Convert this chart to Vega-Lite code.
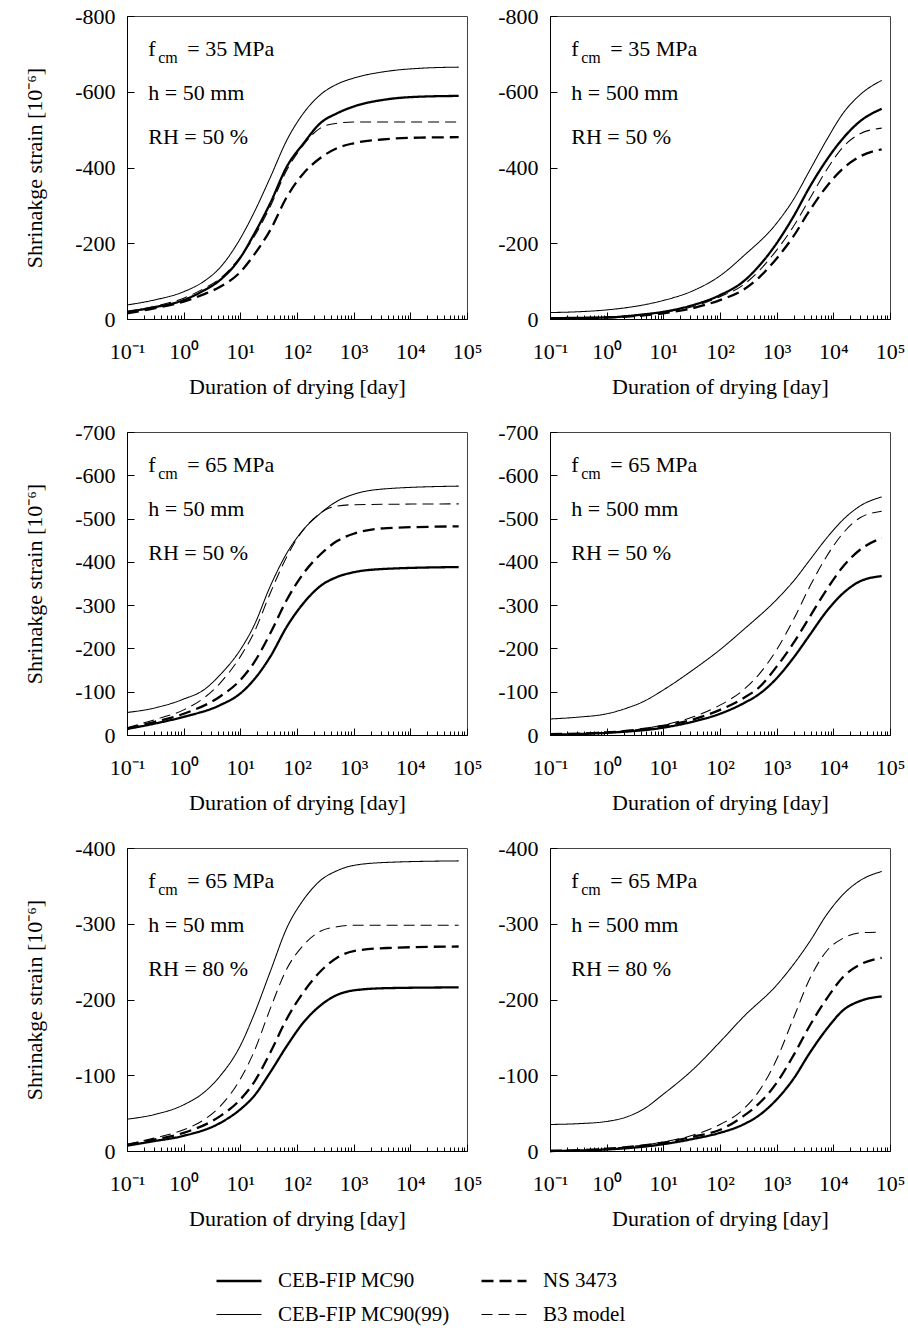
{
"$schema": "https://vega.github.io/schema/vega-lite/v6.json",
"padding": {"left": 23, "top": 4, "right": 10, "bottom": 10},
"columns": 2,
"bounds": "flush",
"spacing": {"row": 113, "column": 83},
"datasets": {
"c": [
{"p":1,"m":"CEB-FIP MC90","t":0.1,"s":-19},{"p":1,"m":"CEB-FIP MC90","t":0.3,"s":-31},{"p":1,"m":"CEB-FIP MC90","t":1,"s":-50},{"p":1,"m":"CEB-FIP MC90","t":2.25,"s":-75},{"p":1,"m":"CEB-FIP MC90","t":4.4,"s":-103},{"p":1,"m":"CEB-FIP MC90","t":10,"s":-162},{"p":1,"m":"CEB-FIP MC90","t":17.2,"s":-222},{"p":1,"m":"CEB-FIP MC90","t":33.8,"s":-306},{"p":1,"m":"CEB-FIP MC90","t":66.6,"s":-403},{"p":1,"m":"CEB-FIP MC90","t":131,"s":-464},{"p":1,"m":"CEB-FIP MC90","t":258,"s":-517},{"p":1,"m":"CEB-FIP MC90","t":508,"s":-543},{"p":1,"m":"CEB-FIP MC90","t":1000,"s":-561},{"p":1,"m":"CEB-FIP MC90","t":3875,"s":-580},{"p":1,"m":"CEB-FIP MC90","t":15000,"s":-587},{"p":1,"m":"CEB-FIP MC90","t":71300,"s":-589},
{"p":1,"m":"CEB-FIP MC90(99)","t":0.1,"s":-37},{"p":1,"m":"CEB-FIP MC90(99)","t":0.3,"s":-50},{"p":1,"m":"CEB-FIP MC90(99)","t":1,"s":-72},{"p":1,"m":"CEB-FIP MC90(99)","t":2.25,"s":-99},{"p":1,"m":"CEB-FIP MC90(99)","t":4.4,"s":-136},{"p":1,"m":"CEB-FIP MC90(99)","t":8.75,"s":-198},{"p":1,"m":"CEB-FIP MC90(99)","t":17.2,"s":-279},{"p":1,"m":"CEB-FIP MC90(99)","t":33.8,"s":-374},{"p":1,"m":"CEB-FIP MC90(99)","t":66.6,"s":-473},{"p":1,"m":"CEB-FIP MC90(99)","t":131,"s":-544},{"p":1,"m":"CEB-FIP MC90(99)","t":258,"s":-592},{"p":1,"m":"CEB-FIP MC90(99)","t":508,"s":-620},{"p":1,"m":"CEB-FIP MC90(99)","t":1000,"s":-636},{"p":1,"m":"CEB-FIP MC90(99)","t":3875,"s":-654},{"p":1,"m":"CEB-FIP MC90(99)","t":15000,"s":-662},{"p":1,"m":"CEB-FIP MC90(99)","t":71300,"s":-665},
{"p":1,"m":"NS 3473","t":0.1,"s":-15},{"p":1,"m":"NS 3473","t":0.3,"s":-28},{"p":1,"m":"NS 3473","t":1,"s":-46},{"p":1,"m":"NS 3473","t":2.25,"s":-65},{"p":1,"m":"NS 3473","t":4.4,"s":-85},{"p":1,"m":"NS 3473","t":10,"s":-124},{"p":1,"m":"NS 3473","t":17.2,"s":-168},{"p":1,"m":"NS 3473","t":33.8,"s":-235},{"p":1,"m":"NS 3473","t":66.6,"s":-323},{"p":1,"m":"NS 3473","t":131,"s":-385},{"p":1,"m":"NS 3473","t":258,"s":-425},{"p":1,"m":"NS 3473","t":508,"s":-451},{"p":1,"m":"NS 3473","t":1000,"s":-464},{"p":1,"m":"NS 3473","t":3875,"s":-475},{"p":1,"m":"NS 3473","t":15000,"s":-479},{"p":1,"m":"NS 3473","t":71300,"s":-480},
{"p":1,"m":"B3 model","t":0.1,"s":-19},{"p":1,"m":"B3 model","t":0.3,"s":-33},{"p":1,"m":"B3 model","t":1,"s":-55},{"p":1,"m":"B3 model","t":2.25,"s":-80},{"p":1,"m":"B3 model","t":4.4,"s":-107},{"p":1,"m":"B3 model","t":10,"s":-164},{"p":1,"m":"B3 model","t":17.2,"s":-215},{"p":1,"m":"B3 model","t":33.8,"s":-297},{"p":1,"m":"B3 model","t":66.6,"s":-394},{"p":1,"m":"B3 model","t":131,"s":-460},{"p":1,"m":"B3 model","t":258,"s":-504},{"p":1,"m":"B3 model","t":508,"s":-517},{"p":1,"m":"B3 model","t":1000,"s":-520},{"p":1,"m":"B3 model","t":71300,"s":-520},

{"p":2,"m":"CEB-FIP MC90","t":0.1,"s":-2},{"p":2,"m":"CEB-FIP MC90","t":0.3,"s":-3},{"p":2,"m":"CEB-FIP MC90","t":1,"s":-4},{"p":2,"m":"CEB-FIP MC90","t":4.4,"s":-12},{"p":2,"m":"CEB-FIP MC90","t":10,"s":-19},{"p":2,"m":"CEB-FIP MC90","t":33.8,"s":-37},{"p":2,"m":"CEB-FIP MC90","t":100,"s":-63},{"p":2,"m":"CEB-FIP MC90","t":258,"s":-99},{"p":2,"m":"CEB-FIP MC90","t":508,"s":-143},{"p":2,"m":"CEB-FIP MC90","t":1000,"s":-200},{"p":2,"m":"CEB-FIP MC90","t":1970,"s":-270},{"p":2,"m":"CEB-FIP MC90","t":3875,"s":-350},{"p":2,"m":"CEB-FIP MC90","t":7630,"s":-420},{"p":2,"m":"CEB-FIP MC90","t":15000,"s":-478},{"p":2,"m":"CEB-FIP MC90","t":29570,"s":-522},{"p":2,"m":"CEB-FIP MC90","t":71300,"s":-555},
{"p":2,"m":"CEB-FIP MC90(99)","t":0.1,"s":-17},{"p":2,"m":"CEB-FIP MC90(99)","t":0.3,"s":-19},{"p":2,"m":"CEB-FIP MC90(99)","t":1,"s":-24},{"p":2,"m":"CEB-FIP MC90(99)","t":2.25,"s":-30},{"p":2,"m":"CEB-FIP MC90(99)","t":4.4,"s":-37},{"p":2,"m":"CEB-FIP MC90(99)","t":10,"s":-49},{"p":2,"m":"CEB-FIP MC90(99)","t":33.8,"s":-75},{"p":2,"m":"CEB-FIP MC90(99)","t":100,"s":-114},{"p":2,"m":"CEB-FIP MC90(99)","t":258,"s":-166},{"p":2,"m":"CEB-FIP MC90(99)","t":1000,"s":-253},{"p":2,"m":"CEB-FIP MC90(99)","t":1970,"s":-315},{"p":2,"m":"CEB-FIP MC90(99)","t":3875,"s":-394},{"p":2,"m":"CEB-FIP MC90(99)","t":7630,"s":-473},{"p":2,"m":"CEB-FIP MC90(99)","t":15000,"s":-544},{"p":2,"m":"CEB-FIP MC90(99)","t":29570,"s":-592},{"p":2,"m":"CEB-FIP MC90(99)","t":71300,"s":-630},
{"p":2,"m":"NS 3473","t":0.1,"s":-1},{"p":2,"m":"NS 3473","t":1,"s":-4},{"p":2,"m":"NS 3473","t":10,"s":-15},{"p":2,"m":"NS 3473","t":33.8,"s":-29},{"p":2,"m":"NS 3473","t":100,"s":-50},{"p":2,"m":"NS 3473","t":258,"s":-77},{"p":2,"m":"NS 3473","t":508,"s":-112},{"p":2,"m":"NS 3473","t":1000,"s":-160},{"p":2,"m":"NS 3473","t":1970,"s":-218},{"p":2,"m":"NS 3473","t":3875,"s":-288},{"p":2,"m":"NS 3473","t":7630,"s":-350},{"p":2,"m":"NS 3473","t":15000,"s":-398},{"p":2,"m":"NS 3473","t":29570,"s":-429},{"p":2,"m":"NS 3473","t":71300,"s":-448},
{"p":2,"m":"B3 model","t":0.1,"s":-1},{"p":2,"m":"B3 model","t":1,"s":-5},{"p":2,"m":"B3 model","t":10,"s":-18},{"p":2,"m":"B3 model","t":33.8,"s":-33},{"p":2,"m":"B3 model","t":100,"s":-59},{"p":2,"m":"B3 model","t":258,"s":-90},{"p":2,"m":"B3 model","t":508,"s":-130},{"p":2,"m":"B3 model","t":1000,"s":-182},{"p":2,"m":"B3 model","t":1970,"s":-244},{"p":2,"m":"B3 model","t":3875,"s":-319},{"p":2,"m":"B3 model","t":7630,"s":-394},{"p":2,"m":"B3 model","t":15000,"s":-455},{"p":2,"m":"B3 model","t":29570,"s":-489},{"p":2,"m":"B3 model","t":71300,"s":-504},

{"p":3,"m":"CEB-FIP MC90","t":0.1,"s":-14},{"p":3,"m":"CEB-FIP MC90","t":0.3,"s":-26},{"p":3,"m":"CEB-FIP MC90","t":1,"s":-42},{"p":3,"m":"CEB-FIP MC90","t":4.4,"s":-69},{"p":3,"m":"CEB-FIP MC90","t":10,"s":-96},{"p":3,"m":"CEB-FIP MC90","t":17.2,"s":-127},{"p":3,"m":"CEB-FIP MC90","t":33.8,"s":-181},{"p":3,"m":"CEB-FIP MC90","t":66.6,"s":-251},{"p":3,"m":"CEB-FIP MC90","t":131,"s":-305},{"p":3,"m":"CEB-FIP MC90","t":258,"s":-344},{"p":3,"m":"CEB-FIP MC90","t":508,"s":-365},{"p":3,"m":"CEB-FIP MC90","t":1000,"s":-376},{"p":3,"m":"CEB-FIP MC90","t":3875,"s":-384},{"p":3,"m":"CEB-FIP MC90","t":71300,"s":-388},
{"p":3,"m":"CEB-FIP MC90(99)","t":0.1,"s":-52},{"p":3,"m":"CEB-FIP MC90(99)","t":0.3,"s":-62},{"p":3,"m":"CEB-FIP MC90(99)","t":1,"s":-83},{"p":3,"m":"CEB-FIP MC90(99)","t":2.25,"s":-104},{"p":3,"m":"CEB-FIP MC90(99)","t":4.4,"s":-139},{"p":3,"m":"CEB-FIP MC90(99)","t":10,"s":-197},{"p":3,"m":"CEB-FIP MC90(99)","t":17.2,"s":-251},{"p":3,"m":"CEB-FIP MC90(99)","t":33.8,"s":-344},{"p":3,"m":"CEB-FIP MC90(99)","t":66.6,"s":-421},{"p":3,"m":"CEB-FIP MC90(99)","t":131,"s":-475},{"p":3,"m":"CEB-FIP MC90(99)","t":258,"s":-512},{"p":3,"m":"CEB-FIP MC90(99)","t":508,"s":-540},{"p":3,"m":"CEB-FIP MC90(99)","t":1000,"s":-556},{"p":3,"m":"CEB-FIP MC90(99)","t":3875,"s":-569},{"p":3,"m":"CEB-FIP MC90(99)","t":71300,"s":-575},
{"p":3,"m":"NS 3473","t":0.1,"s":-15},{"p":3,"m":"NS 3473","t":0.3,"s":-30},{"p":3,"m":"NS 3473","t":1,"s":-49},{"p":3,"m":"NS 3473","t":4.4,"s":-89},{"p":3,"m":"NS 3473","t":10,"s":-127},{"p":3,"m":"NS 3473","t":17.2,"s":-166},{"p":3,"m":"NS 3473","t":33.8,"s":-235},{"p":3,"m":"NS 3473","t":66.6,"s":-313},{"p":3,"m":"NS 3473","t":131,"s":-374},{"p":3,"m":"NS 3473","t":258,"s":-417},{"p":3,"m":"NS 3473","t":508,"s":-448},{"p":3,"m":"NS 3473","t":1000,"s":-465},{"p":3,"m":"NS 3473","t":3875,"s":-478},{"p":3,"m":"NS 3473","t":71300,"s":-482},
{"p":3,"m":"B3 model","t":0.1,"s":-17},{"p":3,"m":"B3 model","t":0.3,"s":-35},{"p":3,"m":"B3 model","t":1,"s":-58},{"p":3,"m":"B3 model","t":2.25,"s":-85},{"p":3,"m":"B3 model","t":4.4,"s":-120},{"p":3,"m":"B3 model","t":10,"s":-181},{"p":3,"m":"B3 model","t":17.2,"s":-235},{"p":3,"m":"B3 model","t":33.8,"s":-328},{"p":3,"m":"B3 model","t":66.6,"s":-413},{"p":3,"m":"B3 model","t":131,"s":-475},{"p":3,"m":"B3 model","t":258,"s":-512},{"p":3,"m":"B3 model","t":338,"s":-522},{"p":3,"m":"B3 model","t":508,"s":-529},{"p":3,"m":"B3 model","t":1000,"s":-532},{"p":3,"m":"B3 model","t":71300,"s":-534},

{"p":4,"m":"CEB-FIP MC90","t":0.1,"s":-1},{"p":4,"m":"CEB-FIP MC90","t":1,"s":-5},{"p":4,"m":"CEB-FIP MC90","t":10,"s":-17},{"p":4,"m":"CEB-FIP MC90","t":33.8,"s":-31},{"p":4,"m":"CEB-FIP MC90","t":100,"s":-49},{"p":4,"m":"CEB-FIP MC90","t":258,"s":-73},{"p":4,"m":"CEB-FIP MC90","t":508,"s":-96},{"p":4,"m":"CEB-FIP MC90","t":1000,"s":-131},{"p":4,"m":"CEB-FIP MC90","t":1970,"s":-178},{"p":4,"m":"CEB-FIP MC90","t":3875,"s":-232},{"p":4,"m":"CEB-FIP MC90","t":7630,"s":-286},{"p":4,"m":"CEB-FIP MC90","t":15000,"s":-328},{"p":4,"m":"CEB-FIP MC90","t":29570,"s":-355},{"p":4,"m":"CEB-FIP MC90","t":71300,"s":-367},
{"p":4,"m":"CEB-FIP MC90(99)","t":0.1,"s":-37},{"p":4,"m":"CEB-FIP MC90(99)","t":0.3,"s":-41},{"p":4,"m":"CEB-FIP MC90(99)","t":1,"s":-49},{"p":4,"m":"CEB-FIP MC90(99)","t":2.25,"s":-62},{"p":4,"m":"CEB-FIP MC90(99)","t":4.4,"s":-77},{"p":4,"m":"CEB-FIP MC90(99)","t":10,"s":-104},{"p":4,"m":"CEB-FIP MC90(99)","t":33.8,"s":-151},{"p":4,"m":"CEB-FIP MC90(99)","t":100,"s":-197},{"p":4,"m":"CEB-FIP MC90(99)","t":258,"s":-243},{"p":4,"m":"CEB-FIP MC90(99)","t":1000,"s":-313},{"p":4,"m":"CEB-FIP MC90(99)","t":1970,"s":-355},{"p":4,"m":"CEB-FIP MC90(99)","t":3875,"s":-405},{"p":4,"m":"CEB-FIP MC90(99)","t":7630,"s":-455},{"p":4,"m":"CEB-FIP MC90(99)","t":15000,"s":-498},{"p":4,"m":"CEB-FIP MC90(99)","t":29570,"s":-529},{"p":4,"m":"CEB-FIP MC90(99)","t":71300,"s":-550},
{"p":4,"m":"NS 3473","t":0.1,"s":-2},{"p":4,"m":"NS 3473","t":1,"s":-6},{"p":4,"m":"NS 3473","t":10,"s":-21},{"p":4,"m":"NS 3473","t":33.8,"s":-36},{"p":4,"m":"NS 3473","t":100,"s":-58},{"p":4,"m":"NS 3473","t":258,"s":-85},{"p":4,"m":"NS 3473","t":508,"s":-112},{"p":4,"m":"NS 3473","t":1000,"s":-158},{"p":4,"m":"NS 3473","t":1970,"s":-212},{"p":4,"m":"NS 3473","t":3875,"s":-274},{"p":4,"m":"NS 3473","t":7630,"s":-336},{"p":4,"m":"NS 3473","t":15000,"s":-390},{"p":4,"m":"NS 3473","t":29570,"s":-428},{"p":4,"m":"NS 3473","t":71300,"s":-455},
{"p":4,"m":"B3 model","t":0.1,"s":-2},{"p":4,"m":"B3 model","t":1,"s":-6},{"p":4,"m":"B3 model","t":10,"s":-23},{"p":4,"m":"B3 model","t":33.8,"s":-42},{"p":4,"m":"B3 model","t":100,"s":-69},{"p":4,"m":"B3 model","t":258,"s":-104},{"p":4,"m":"B3 model","t":508,"s":-143},{"p":4,"m":"B3 model","t":1000,"s":-197},{"p":4,"m":"B3 model","t":1970,"s":-266},{"p":4,"m":"B3 model","t":3875,"s":-344},{"p":4,"m":"B3 model","t":7630,"s":-413},{"p":4,"m":"B3 model","t":15000,"s":-467},{"p":4,"m":"B3 model","t":29570,"s":-502},{"p":4,"m":"B3 model","t":71300,"s":-517},

{"p":5,"m":"CEB-FIP MC90","t":0.1,"s":-7},{"p":5,"m":"CEB-FIP MC90","t":0.3,"s":-13},{"p":5,"m":"CEB-FIP MC90","t":1,"s":-20},{"p":5,"m":"CEB-FIP MC90","t":4.4,"s":-37},{"p":5,"m":"CEB-FIP MC90","t":10,"s":-55},{"p":5,"m":"CEB-FIP MC90","t":17.2,"s":-72},{"p":5,"m":"CEB-FIP MC90","t":33.8,"s":-104},{"p":5,"m":"CEB-FIP MC90","t":66.6,"s":-139},{"p":5,"m":"CEB-FIP MC90","t":131,"s":-170},{"p":5,"m":"CEB-FIP MC90","t":258,"s":-192},{"p":5,"m":"CEB-FIP MC90","t":508,"s":-206},{"p":5,"m":"CEB-FIP MC90","t":1000,"s":-212},{"p":5,"m":"CEB-FIP MC90","t":3875,"s":-215},{"p":5,"m":"CEB-FIP MC90","t":71300,"s":-216},
{"p":5,"m":"CEB-FIP MC90(99)","t":0.1,"s":-42},{"p":5,"m":"CEB-FIP MC90(99)","t":0.3,"s":-48},{"p":5,"m":"CEB-FIP MC90(99)","t":1,"s":-61},{"p":5,"m":"CEB-FIP MC90(99)","t":2.25,"s":-77},{"p":5,"m":"CEB-FIP MC90(99)","t":4.4,"s":-99},{"p":5,"m":"CEB-FIP MC90(99)","t":10,"s":-139},{"p":5,"m":"CEB-FIP MC90(99)","t":17.2,"s":-179},{"p":5,"m":"CEB-FIP MC90(99)","t":33.8,"s":-237},{"p":5,"m":"CEB-FIP MC90(99)","t":66.6,"s":-295},{"p":5,"m":"CEB-FIP MC90(99)","t":131,"s":-332},{"p":5,"m":"CEB-FIP MC90(99)","t":258,"s":-357},{"p":5,"m":"CEB-FIP MC90(99)","t":508,"s":-370},{"p":5,"m":"CEB-FIP MC90(99)","t":1000,"s":-377},{"p":5,"m":"CEB-FIP MC90(99)","t":3875,"s":-381},{"p":5,"m":"CEB-FIP MC90(99)","t":71300,"s":-383},
{"p":5,"m":"NS 3473","t":0.1,"s":-8},{"p":5,"m":"NS 3473","t":0.3,"s":-15},{"p":5,"m":"NS 3473","t":1,"s":-24},{"p":5,"m":"NS 3473","t":4.4,"s":-46},{"p":5,"m":"NS 3473","t":10,"s":-68},{"p":5,"m":"NS 3473","t":17.2,"s":-90},{"p":5,"m":"NS 3473","t":33.8,"s":-130},{"p":5,"m":"NS 3473","t":66.6,"s":-175},{"p":5,"m":"NS 3473","t":131,"s":-210},{"p":5,"m":"NS 3473","t":258,"s":-237},{"p":5,"m":"NS 3473","t":508,"s":-255},{"p":5,"m":"NS 3473","t":1000,"s":-264},{"p":5,"m":"NS 3473","t":3875,"s":-268},{"p":5,"m":"NS 3473","t":71300,"s":-270},
{"p":5,"m":"B3 model","t":0.1,"s":-9},{"p":5,"m":"B3 model","t":0.3,"s":-17},{"p":5,"m":"B3 model","t":1,"s":-28},{"p":5,"m":"B3 model","t":2.25,"s":-41},{"p":5,"m":"B3 model","t":4.4,"s":-59},{"p":5,"m":"B3 model","t":10,"s":-95},{"p":5,"m":"B3 model","t":17.2,"s":-130},{"p":5,"m":"B3 model","t":33.8,"s":-188},{"p":5,"m":"B3 model","t":66.6,"s":-241},{"p":5,"m":"B3 model","t":131,"s":-272},{"p":5,"m":"B3 model","t":258,"s":-290},{"p":5,"m":"B3 model","t":508,"s":-296},{"p":5,"m":"B3 model","t":1000,"s":-298},{"p":5,"m":"B3 model","t":71300,"s":-298},

{"p":6,"m":"CEB-FIP MC90","t":0.1,"s":0},{"p":6,"m":"CEB-FIP MC90","t":1,"s":-2},{"p":6,"m":"CEB-FIP MC90","t":10,"s":-9},{"p":6,"m":"CEB-FIP MC90","t":33.8,"s":-16},{"p":6,"m":"CEB-FIP MC90","t":100,"s":-24},{"p":6,"m":"CEB-FIP MC90","t":258,"s":-35},{"p":6,"m":"CEB-FIP MC90","t":508,"s":-48},{"p":6,"m":"CEB-FIP MC90","t":1000,"s":-68},{"p":6,"m":"CEB-FIP MC90","t":1970,"s":-95},{"p":6,"m":"CEB-FIP MC90","t":3875,"s":-130},{"p":6,"m":"CEB-FIP MC90","t":7630,"s":-161},{"p":6,"m":"CEB-FIP MC90","t":15000,"s":-186},{"p":6,"m":"CEB-FIP MC90","t":29570,"s":-198},{"p":6,"m":"CEB-FIP MC90","t":71300,"s":-204},
{"p":6,"m":"CEB-FIP MC90(99)","t":0.1,"s":-35},{"p":6,"m":"CEB-FIP MC90(99)","t":0.3,"s":-36},{"p":6,"m":"CEB-FIP MC90(99)","t":1,"s":-39},{"p":6,"m":"CEB-FIP MC90(99)","t":2.25,"s":-45},{"p":6,"m":"CEB-FIP MC90(99)","t":4.4,"s":-55},{"p":6,"m":"CEB-FIP MC90(99)","t":10,"s":-75},{"p":6,"m":"CEB-FIP MC90(99)","t":33.8,"s":-108},{"p":6,"m":"CEB-FIP MC90(99)","t":100,"s":-144},{"p":6,"m":"CEB-FIP MC90(99)","t":258,"s":-177},{"p":6,"m":"CEB-FIP MC90(99)","t":1000,"s":-219},{"p":6,"m":"CEB-FIP MC90(99)","t":1970,"s":-246},{"p":6,"m":"CEB-FIP MC90(99)","t":3875,"s":-277},{"p":6,"m":"CEB-FIP MC90(99)","t":7630,"s":-312},{"p":6,"m":"CEB-FIP MC90(99)","t":15000,"s":-339},{"p":6,"m":"CEB-FIP MC90(99)","t":29570,"s":-357},{"p":6,"m":"CEB-FIP MC90(99)","t":71300,"s":-369},
{"p":6,"m":"NS 3473","t":0.1,"s":0},{"p":6,"m":"NS 3473","t":1,"s":-3},{"p":6,"m":"NS 3473","t":10,"s":-11},{"p":6,"m":"NS 3473","t":33.8,"s":-19},{"p":6,"m":"NS 3473","t":100,"s":-28},{"p":6,"m":"NS 3473","t":258,"s":-46},{"p":6,"m":"NS 3473","t":508,"s":-64},{"p":6,"m":"NS 3473","t":1000,"s":-90},{"p":6,"m":"NS 3473","t":1970,"s":-126},{"p":6,"m":"NS 3473","t":3875,"s":-166},{"p":6,"m":"NS 3473","t":7630,"s":-201},{"p":6,"m":"NS 3473","t":15000,"s":-230},{"p":6,"m":"NS 3473","t":29570,"s":-246},{"p":6,"m":"NS 3473","t":71300,"s":-255},
{"p":6,"m":"B3 model","t":0.1,"s":0},{"p":6,"m":"B3 model","t":1,"s":-3},{"p":6,"m":"B3 model","t":10,"s":-12},{"p":6,"m":"B3 model","t":33.8,"s":-21},{"p":6,"m":"B3 model","t":100,"s":-35},{"p":6,"m":"B3 model","t":258,"s":-55},{"p":6,"m":"B3 model","t":508,"s":-81},{"p":6,"m":"B3 model","t":1000,"s":-121},{"p":6,"m":"B3 model","t":1970,"s":-175},{"p":6,"m":"B3 model","t":3875,"s":-228},{"p":6,"m":"B3 model","t":7630,"s":-264},{"p":6,"m":"B3 model","t":15000,"s":-281},{"p":6,"m":"B3 model","t":29570,"s":-288},{"p":6,"m":"B3 model","t":71300,"s":-289}
],
"n": [
{"p":1,"line":1,"part":"f","text":"f"},{"p":1,"line":1,"part":"sub","text":"cm"},{"p":1,"line":1,"part":"rest","text":"= 35 MPa"},{"p":1,"line":2,"part":"f","text":"h = 50 mm"},{"p":1,"line":3,"part":"f","text":"RH = 50 %"},
{"p":2,"line":1,"part":"f","text":"f"},{"p":2,"line":1,"part":"sub","text":"cm"},{"p":2,"line":1,"part":"rest","text":"= 35 MPa"},{"p":2,"line":2,"part":"f","text":"h = 500 mm"},{"p":2,"line":3,"part":"f","text":"RH = 50 %"},
{"p":3,"line":1,"part":"f","text":"f"},{"p":3,"line":1,"part":"sub","text":"cm"},{"p":3,"line":1,"part":"rest","text":"= 65 MPa"},{"p":3,"line":2,"part":"f","text":"h = 50 mm"},{"p":3,"line":3,"part":"f","text":"RH = 50 %"},
{"p":4,"line":1,"part":"f","text":"f"},{"p":4,"line":1,"part":"sub","text":"cm"},{"p":4,"line":1,"part":"rest","text":"= 65 MPa"},{"p":4,"line":2,"part":"f","text":"h = 500 mm"},{"p":4,"line":3,"part":"f","text":"RH = 50 %"},
{"p":5,"line":1,"part":"f","text":"f"},{"p":5,"line":1,"part":"sub","text":"cm"},{"p":5,"line":1,"part":"rest","text":"= 65 MPa"},{"p":5,"line":2,"part":"f","text":"h = 50 mm"},{"p":5,"line":3,"part":"f","text":"RH = 80 %"},
{"p":6,"line":1,"part":"f","text":"f"},{"p":6,"line":1,"part":"sub","text":"cm"},{"p":6,"line":1,"part":"rest","text":"= 65 MPa"},{"p":6,"line":2,"part":"f","text":"h = 500 mm"},{"p":6,"line":3,"part":"f","text":"RH = 80 %"}
]
},
"concat": [
{"width":340,"height":303,"resolve":{"scale":{"y":"independent"},"axis":{"x":"independent"}},"layer":[
{"data":{"name":"c"},"transform":[{"filter":"datum.p == 1"}],"mark":{"type":"line","interpolate":"monotone","color":"black"},
"encoding":{"x":{"field":"t","type":"quantitative","scale":{"type":"log","domain":[0.1,100000],"nice":false},"axis":{"orient":"bottom","values":[0.1,1,10,100,1000,10000,100000],"labelExpr":"datum.value < 0.5 ? '10⁻¹' : datum.value < 5 ? '10⁰' : datum.value < 50 ? '10¹' : datum.value < 500 ? '10²' : datum.value < 5000 ? '10³' : datum.value < 50000 ? '10⁴' : '10⁵'","tickSize":-7,"labelPadding":29,"labelFlush":false,"labelOverlap":false,"grid":false,"title":"Duration of drying [day]","titlePadding":14}},
"y":{"field":"s","type":"quantitative","scale":{"domain":[-800,0],"reverse":true,"nice":false},"axis":{"values":[-800,-600,-400,-200,0],"labelExpr":"'' + datum.value","tickSize":-7,"labelPadding":19,"labelFlush":false,"grid":false,"title":"Shrinakge strain [10⁻⁶]","titlePadding":28}},
"strokeDash":{"field":"m","type":"nominal","scale":{"domain":["CEB-FIP MC90","CEB-FIP MC90(99)","NS 3473","B3 model"],"range":[[1,0],[1,0],[12,6],[11,6]]},"legend":{"title":null}},
"strokeWidth":{"field":"m","type":"nominal","scale":{"type":"ordinal","domain":["CEB-FIP MC90","CEB-FIP MC90(99)","NS 3473","B3 model"],"range":[2.3,1.05,2.3,1.05]},"legend":{"title":null}}}},
{"data":{"name":"n"},"transform":[{"filter":"datum.p == 1 && datum.part == 'f'"}],"mark":{"type":"text","align":"left","baseline":"alphabetic"},"encoding":{"x":{"datum":0.237,"type":"quantitative","axis":null},"y":{"field":"line","type":"quantitative","scale":{"domain":[0.09,6.976],"reverse":true,"nice":false,"zero":false},"axis":null},"text":{"field":"text"}}},
{"data":{"name":"n"},"transform":[{"filter":"datum.p == 1 && datum.part == 'sub'"}],"mark":{"type":"text","align":"left","baseline":"alphabetic","dx":10,"dy":7,"fontSize":16},"encoding":{"x":{"datum":0.237,"type":"quantitative","axis":null},"y":{"field":"line","type":"quantitative","scale":{"domain":[0.09,6.976],"reverse":true,"nice":false,"zero":false},"axis":null},"text":{"field":"text"}}},
{"data":{"name":"n"},"transform":[{"filter":"datum.p == 1 && datum.part == 'rest'"}],"mark":{"type":"text","align":"left","baseline":"alphabetic","dx":39},"encoding":{"x":{"datum":0.237,"type":"quantitative","axis":{"orient":"bottom","values":[0.2,0.3,0.4,0.5,0.6,0.7,0.8,0.9,2,3,4,5,6,7,8,9,20,30,40,50,60,70,80,90,200,300,400,500,600,700,800,900,2000,3000,4000,5000,6000,7000,8000,9000,20000,30000,40000,50000,60000,70000,80000,90000],"labels":false,"domain":false,"grid":false,"title":null,"tickSize":-4}},"y":{"field":"line","type":"quantitative","scale":{"domain":[0.09,6.976],"reverse":true,"nice":false,"zero":false},"axis":null},"text":{"field":"text"}}}
]},
{"width":340,"height":303,"resolve":{"scale":{"y":"independent"},"axis":{"x":"independent"}},"layer":[
{"data":{"name":"c"},"transform":[{"filter":"datum.p == 2"}],"mark":{"type":"line","interpolate":"monotone","color":"black"},
"encoding":{"x":{"field":"t","type":"quantitative","scale":{"type":"log","domain":[0.1,100000],"nice":false},"axis":{"orient":"bottom","values":[0.1,1,10,100,1000,10000,100000],"labelExpr":"datum.value < 0.5 ? '10⁻¹' : datum.value < 5 ? '10⁰' : datum.value < 50 ? '10¹' : datum.value < 500 ? '10²' : datum.value < 5000 ? '10³' : datum.value < 50000 ? '10⁴' : '10⁵'","tickSize":-7,"labelPadding":29,"labelFlush":false,"labelOverlap":false,"grid":false,"title":"Duration of drying [day]","titlePadding":14}},
"y":{"field":"s","type":"quantitative","scale":{"domain":[-800,0],"reverse":true,"nice":false},"axis":{"values":[-800,-600,-400,-200,0],"labelExpr":"'' + datum.value","tickSize":-7,"labelPadding":19,"labelFlush":false,"grid":false,"title":null}},
"strokeDash":{"field":"m","type":"nominal","scale":{"domain":["CEB-FIP MC90","CEB-FIP MC90(99)","NS 3473","B3 model"],"range":[[1,0],[1,0],[12,6],[11,6]]},"legend":{"title":null}},
"strokeWidth":{"field":"m","type":"nominal","scale":{"type":"ordinal","domain":["CEB-FIP MC90","CEB-FIP MC90(99)","NS 3473","B3 model"],"range":[2.3,1.05,2.3,1.05]},"legend":{"title":null}}}},
{"data":{"name":"n"},"transform":[{"filter":"datum.p == 2 && datum.part == 'f'"}],"mark":{"type":"text","align":"left","baseline":"alphabetic"},"encoding":{"x":{"datum":0.237,"type":"quantitative","axis":null},"y":{"field":"line","type":"quantitative","scale":{"domain":[0.09,6.976],"reverse":true,"nice":false,"zero":false},"axis":null},"text":{"field":"text"}}},
{"data":{"name":"n"},"transform":[{"filter":"datum.p == 2 && datum.part == 'sub'"}],"mark":{"type":"text","align":"left","baseline":"alphabetic","dx":10,"dy":7,"fontSize":16},"encoding":{"x":{"datum":0.237,"type":"quantitative","axis":null},"y":{"field":"line","type":"quantitative","scale":{"domain":[0.09,6.976],"reverse":true,"nice":false,"zero":false},"axis":null},"text":{"field":"text"}}},
{"data":{"name":"n"},"transform":[{"filter":"datum.p == 2 && datum.part == 'rest'"}],"mark":{"type":"text","align":"left","baseline":"alphabetic","dx":39},"encoding":{"x":{"datum":0.237,"type":"quantitative","axis":{"orient":"bottom","values":[0.2,0.3,0.4,0.5,0.6,0.7,0.8,0.9,2,3,4,5,6,7,8,9,20,30,40,50,60,70,80,90,200,300,400,500,600,700,800,900,2000,3000,4000,5000,6000,7000,8000,9000,20000,30000,40000,50000,60000,70000,80000,90000],"labels":false,"domain":false,"grid":false,"title":null,"tickSize":-4}},"y":{"field":"line","type":"quantitative","scale":{"domain":[0.09,6.976],"reverse":true,"nice":false,"zero":false},"axis":null},"text":{"field":"text"}}}
]},
{"width":340,"height":303,"resolve":{"scale":{"y":"independent"},"axis":{"x":"independent"}},"layer":[
{"data":{"name":"c"},"transform":[{"filter":"datum.p == 3"}],"mark":{"type":"line","interpolate":"monotone","color":"black"},
"encoding":{"x":{"field":"t","type":"quantitative","scale":{"type":"log","domain":[0.1,100000],"nice":false},"axis":{"orient":"bottom","values":[0.1,1,10,100,1000,10000,100000],"labelExpr":"datum.value < 0.5 ? '10⁻¹' : datum.value < 5 ? '10⁰' : datum.value < 50 ? '10¹' : datum.value < 500 ? '10²' : datum.value < 5000 ? '10³' : datum.value < 50000 ? '10⁴' : '10⁵'","tickSize":-7,"labelPadding":29,"labelFlush":false,"labelOverlap":false,"grid":false,"title":"Duration of drying [day]","titlePadding":14}},
"y":{"field":"s","type":"quantitative","scale":{"domain":[-700,0],"reverse":true,"nice":false},"axis":{"values":[-700,-600,-500,-400,-300,-200,-100,0],"labelExpr":"'' + datum.value","tickSize":-7,"labelPadding":19,"labelFlush":false,"grid":false,"title":"Shrinakge strain [10⁻⁶]","titlePadding":28}},
"strokeDash":{"field":"m","type":"nominal","scale":{"domain":["CEB-FIP MC90","CEB-FIP MC90(99)","NS 3473","B3 model"],"range":[[1,0],[1,0],[12,6],[11,6]]},"legend":{"title":null}},
"strokeWidth":{"field":"m","type":"nominal","scale":{"type":"ordinal","domain":["CEB-FIP MC90","CEB-FIP MC90(99)","NS 3473","B3 model"],"range":[2.3,1.05,2.3,1.05]},"legend":{"title":null}}}},
{"data":{"name":"n"},"transform":[{"filter":"datum.p == 3 && datum.part == 'f'"}],"mark":{"type":"text","align":"left","baseline":"alphabetic"},"encoding":{"x":{"datum":0.237,"type":"quantitative","axis":null},"y":{"field":"line","type":"quantitative","scale":{"domain":[0.09,6.976],"reverse":true,"nice":false,"zero":false},"axis":null},"text":{"field":"text"}}},
{"data":{"name":"n"},"transform":[{"filter":"datum.p == 3 && datum.part == 'sub'"}],"mark":{"type":"text","align":"left","baseline":"alphabetic","dx":10,"dy":7,"fontSize":16},"encoding":{"x":{"datum":0.237,"type":"quantitative","axis":null},"y":{"field":"line","type":"quantitative","scale":{"domain":[0.09,6.976],"reverse":true,"nice":false,"zero":false},"axis":null},"text":{"field":"text"}}},
{"data":{"name":"n"},"transform":[{"filter":"datum.p == 3 && datum.part == 'rest'"}],"mark":{"type":"text","align":"left","baseline":"alphabetic","dx":39},"encoding":{"x":{"datum":0.237,"type":"quantitative","axis":{"orient":"bottom","values":[0.2,0.3,0.4,0.5,0.6,0.7,0.8,0.9,2,3,4,5,6,7,8,9,20,30,40,50,60,70,80,90,200,300,400,500,600,700,800,900,2000,3000,4000,5000,6000,7000,8000,9000,20000,30000,40000,50000,60000,70000,80000,90000],"labels":false,"domain":false,"grid":false,"title":null,"tickSize":-4}},"y":{"field":"line","type":"quantitative","scale":{"domain":[0.09,6.976],"reverse":true,"nice":false,"zero":false},"axis":null},"text":{"field":"text"}}}
]},
{"width":340,"height":303,"resolve":{"scale":{"y":"independent"},"axis":{"x":"independent"}},"layer":[
{"data":{"name":"c"},"transform":[{"filter":"datum.p == 4"}],"mark":{"type":"line","interpolate":"monotone","color":"black"},
"encoding":{"x":{"field":"t","type":"quantitative","scale":{"type":"log","domain":[0.1,100000],"nice":false},"axis":{"orient":"bottom","values":[0.1,1,10,100,1000,10000,100000],"labelExpr":"datum.value < 0.5 ? '10⁻¹' : datum.value < 5 ? '10⁰' : datum.value < 50 ? '10¹' : datum.value < 500 ? '10²' : datum.value < 5000 ? '10³' : datum.value < 50000 ? '10⁴' : '10⁵'","tickSize":-7,"labelPadding":29,"labelFlush":false,"labelOverlap":false,"grid":false,"title":"Duration of drying [day]","titlePadding":14}},
"y":{"field":"s","type":"quantitative","scale":{"domain":[-700,0],"reverse":true,"nice":false},"axis":{"values":[-700,-600,-500,-400,-300,-200,-100,0],"labelExpr":"'' + datum.value","tickSize":-7,"labelPadding":19,"labelFlush":false,"grid":false,"title":null}},
"strokeDash":{"field":"m","type":"nominal","scale":{"domain":["CEB-FIP MC90","CEB-FIP MC90(99)","NS 3473","B3 model"],"range":[[1,0],[1,0],[12,6],[11,6]]},"legend":{"title":null}},
"strokeWidth":{"field":"m","type":"nominal","scale":{"type":"ordinal","domain":["CEB-FIP MC90","CEB-FIP MC90(99)","NS 3473","B3 model"],"range":[2.3,1.05,2.3,1.05]},"legend":{"title":null}}}},
{"data":{"name":"n"},"transform":[{"filter":"datum.p == 4 && datum.part == 'f'"}],"mark":{"type":"text","align":"left","baseline":"alphabetic"},"encoding":{"x":{"datum":0.237,"type":"quantitative","axis":null},"y":{"field":"line","type":"quantitative","scale":{"domain":[0.09,6.976],"reverse":true,"nice":false,"zero":false},"axis":null},"text":{"field":"text"}}},
{"data":{"name":"n"},"transform":[{"filter":"datum.p == 4 && datum.part == 'sub'"}],"mark":{"type":"text","align":"left","baseline":"alphabetic","dx":10,"dy":7,"fontSize":16},"encoding":{"x":{"datum":0.237,"type":"quantitative","axis":null},"y":{"field":"line","type":"quantitative","scale":{"domain":[0.09,6.976],"reverse":true,"nice":false,"zero":false},"axis":null},"text":{"field":"text"}}},
{"data":{"name":"n"},"transform":[{"filter":"datum.p == 4 && datum.part == 'rest'"}],"mark":{"type":"text","align":"left","baseline":"alphabetic","dx":39},"encoding":{"x":{"datum":0.237,"type":"quantitative","axis":{"orient":"bottom","values":[0.2,0.3,0.4,0.5,0.6,0.7,0.8,0.9,2,3,4,5,6,7,8,9,20,30,40,50,60,70,80,90,200,300,400,500,600,700,800,900,2000,3000,4000,5000,6000,7000,8000,9000,20000,30000,40000,50000,60000,70000,80000,90000],"labels":false,"domain":false,"grid":false,"title":null,"tickSize":-4}},"y":{"field":"line","type":"quantitative","scale":{"domain":[0.09,6.976],"reverse":true,"nice":false,"zero":false},"axis":null},"text":{"field":"text"}}}
]},
{"width":340,"height":303,"resolve":{"scale":{"y":"independent"},"axis":{"x":"independent"}},"layer":[
{"data":{"name":"c"},"transform":[{"filter":"datum.p == 5"}],"mark":{"type":"line","interpolate":"monotone","color":"black"},
"encoding":{"x":{"field":"t","type":"quantitative","scale":{"type":"log","domain":[0.1,100000],"nice":false},"axis":{"orient":"bottom","values":[0.1,1,10,100,1000,10000,100000],"labelExpr":"datum.value < 0.5 ? '10⁻¹' : datum.value < 5 ? '10⁰' : datum.value < 50 ? '10¹' : datum.value < 500 ? '10²' : datum.value < 5000 ? '10³' : datum.value < 50000 ? '10⁴' : '10⁵'","tickSize":-7,"labelPadding":29,"labelFlush":false,"labelOverlap":false,"grid":false,"title":"Duration of drying [day]","titlePadding":14}},
"y":{"field":"s","type":"quantitative","scale":{"domain":[-400,0],"reverse":true,"nice":false},"axis":{"values":[-400,-300,-200,-100,0],"labelExpr":"'' + datum.value","tickSize":-7,"labelPadding":19,"labelFlush":false,"grid":false,"title":"Shrinakge strain [10⁻⁶]","titlePadding":28}},
"strokeDash":{"field":"m","type":"nominal","scale":{"domain":["CEB-FIP MC90","CEB-FIP MC90(99)","NS 3473","B3 model"],"range":[[1,0],[1,0],[12,6],[11,6]]},"legend":{"title":null}},
"strokeWidth":{"field":"m","type":"nominal","scale":{"type":"ordinal","domain":["CEB-FIP MC90","CEB-FIP MC90(99)","NS 3473","B3 model"],"range":[2.3,1.05,2.3,1.05]},"legend":{"title":null}}}},
{"data":{"name":"n"},"transform":[{"filter":"datum.p == 5 && datum.part == 'f'"}],"mark":{"type":"text","align":"left","baseline":"alphabetic"},"encoding":{"x":{"datum":0.237,"type":"quantitative","axis":null},"y":{"field":"line","type":"quantitative","scale":{"domain":[0.09,6.976],"reverse":true,"nice":false,"zero":false},"axis":null},"text":{"field":"text"}}},
{"data":{"name":"n"},"transform":[{"filter":"datum.p == 5 && datum.part == 'sub'"}],"mark":{"type":"text","align":"left","baseline":"alphabetic","dx":10,"dy":7,"fontSize":16},"encoding":{"x":{"datum":0.237,"type":"quantitative","axis":null},"y":{"field":"line","type":"quantitative","scale":{"domain":[0.09,6.976],"reverse":true,"nice":false,"zero":false},"axis":null},"text":{"field":"text"}}},
{"data":{"name":"n"},"transform":[{"filter":"datum.p == 5 && datum.part == 'rest'"}],"mark":{"type":"text","align":"left","baseline":"alphabetic","dx":39},"encoding":{"x":{"datum":0.237,"type":"quantitative","axis":{"orient":"bottom","values":[0.2,0.3,0.4,0.5,0.6,0.7,0.8,0.9,2,3,4,5,6,7,8,9,20,30,40,50,60,70,80,90,200,300,400,500,600,700,800,900,2000,3000,4000,5000,6000,7000,8000,9000,20000,30000,40000,50000,60000,70000,80000,90000],"labels":false,"domain":false,"grid":false,"title":null,"tickSize":-4}},"y":{"field":"line","type":"quantitative","scale":{"domain":[0.09,6.976],"reverse":true,"nice":false,"zero":false},"axis":null},"text":{"field":"text"}}}
]},
{"width":340,"height":303,"resolve":{"scale":{"y":"independent"},"axis":{"x":"independent"}},"layer":[
{"data":{"name":"c"},"transform":[{"filter":"datum.p == 6"}],"mark":{"type":"line","interpolate":"monotone","color":"black"},
"encoding":{"x":{"field":"t","type":"quantitative","scale":{"type":"log","domain":[0.1,100000],"nice":false},"axis":{"orient":"bottom","values":[0.1,1,10,100,1000,10000,100000],"labelExpr":"datum.value < 0.5 ? '10⁻¹' : datum.value < 5 ? '10⁰' : datum.value < 50 ? '10¹' : datum.value < 500 ? '10²' : datum.value < 5000 ? '10³' : datum.value < 50000 ? '10⁴' : '10⁵'","tickSize":-7,"labelPadding":29,"labelFlush":false,"labelOverlap":false,"grid":false,"title":"Duration of drying [day]","titlePadding":14}},
"y":{"field":"s","type":"quantitative","scale":{"domain":[-400,0],"reverse":true,"nice":false},"axis":{"values":[-400,-300,-200,-100,0],"labelExpr":"'' + datum.value","tickSize":-7,"labelPadding":19,"labelFlush":false,"grid":false,"title":null}},
"strokeDash":{"field":"m","type":"nominal","scale":{"domain":["CEB-FIP MC90","CEB-FIP MC90(99)","NS 3473","B3 model"],"range":[[1,0],[1,0],[12,6],[11,6]]},"legend":{"title":null}},
"strokeWidth":{"field":"m","type":"nominal","scale":{"type":"ordinal","domain":["CEB-FIP MC90","CEB-FIP MC90(99)","NS 3473","B3 model"],"range":[2.3,1.05,2.3,1.05]},"legend":{"title":null}}}},
{"data":{"name":"n"},"transform":[{"filter":"datum.p == 6 && datum.part == 'f'"}],"mark":{"type":"text","align":"left","baseline":"alphabetic"},"encoding":{"x":{"datum":0.237,"type":"quantitative","axis":null},"y":{"field":"line","type":"quantitative","scale":{"domain":[0.09,6.976],"reverse":true,"nice":false,"zero":false},"axis":null},"text":{"field":"text"}}},
{"data":{"name":"n"},"transform":[{"filter":"datum.p == 6 && datum.part == 'sub'"}],"mark":{"type":"text","align":"left","baseline":"alphabetic","dx":10,"dy":7,"fontSize":16},"encoding":{"x":{"datum":0.237,"type":"quantitative","axis":null},"y":{"field":"line","type":"quantitative","scale":{"domain":[0.09,6.976],"reverse":true,"nice":false,"zero":false},"axis":null},"text":{"field":"text"}}},
{"data":{"name":"n"},"transform":[{"filter":"datum.p == 6 && datum.part == 'rest'"}],"mark":{"type":"text","align":"left","baseline":"alphabetic","dx":39},"encoding":{"x":{"datum":0.237,"type":"quantitative","axis":{"orient":"bottom","values":[0.2,0.3,0.4,0.5,0.6,0.7,0.8,0.9,2,3,4,5,6,7,8,9,20,30,40,50,60,70,80,90,200,300,400,500,600,700,800,900,2000,3000,4000,5000,6000,7000,8000,9000,20000,30000,40000,50000,60000,70000,80000,90000],"labels":false,"domain":false,"grid":false,"title":null,"tickSize":-4}},"y":{"field":"line","type":"quantitative","scale":{"domain":[0.09,6.976],"reverse":true,"nice":false,"zero":false},"axis":null},"text":{"field":"text"}}}
]}
],
"config": {
"font": "Liberation Serif",
"view": {"stroke": "#444", "strokeWidth": 1},
"axis": {"labelFont": "Liberation Serif", "labelFontSize": 22, "titleFont": "Liberation Serif", "titleFontSize": 22, "titleFontWeight": "normal", "labelColor": "black", "titleColor": "black", "domainColor": "black", "tickColor": "black", "domainWidth": 1, "tickWidth": 1},
"text": {"font": "Liberation Serif", "fontSize": 22, "color": "black"},
"legend": {"orient": "none", "legendX": 88, "legendY": 1241, "columns": 2, "symbolType": "stroke", "symbolSize": 2025, "symbolStrokeColor": "black", "labelFont": "Liberation Serif", "labelFontSize": 21, "labelColor": "black", "labelLimit": 400, "columnPadding": 25, "rowPadding": -13, "labelOffset": 15}
}
}
